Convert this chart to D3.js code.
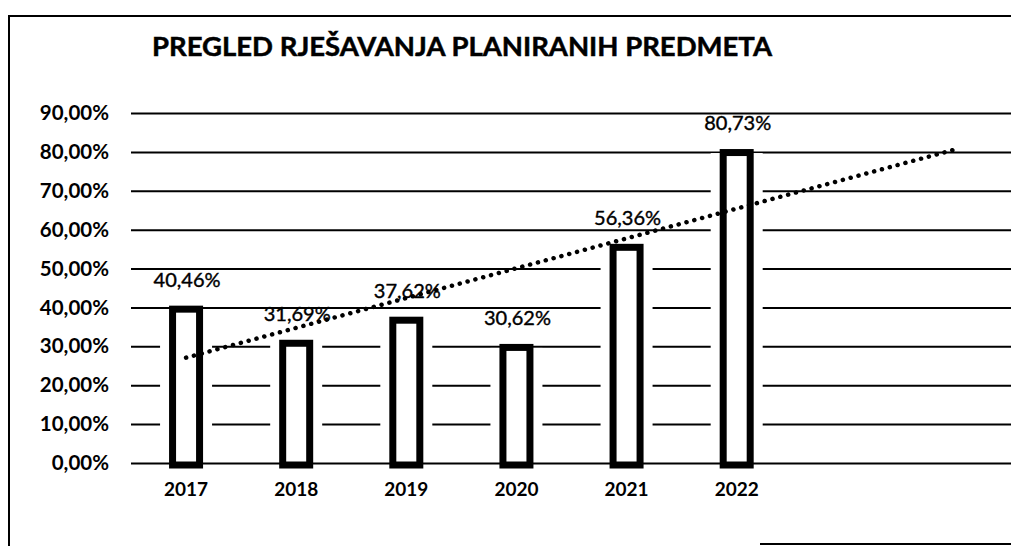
<!DOCTYPE html>
<html>
<head>
<meta charset="utf-8">
<script src="https://cdn.jsdelivr.net/npm/d3@7"></script>
<style>
  body { margin: 0; background: #fff; }
  svg { display: block; font-family: Lato, "Open Sans", sans-serif; }
</style>
</head>
<body>
<script>

// categories on the x axis (two empty slots carry the trend forecast)
var years = ['2017', '2018', '2019', '2020', '2021', '2022'];
var forecastSlots = ['f1', 'f2'];
// share of planned cases resolved, in percent
var resolved = [40.46, 31.69, 37.62, 30.62, 56.36, 80.73];
// y axis ticks
var yTicks = [0, 10, 20, 30, 40, 50, 60, 70, 80, 90];

var width = 1011, height = 546;
var margin = { top: 113, right: 1, bottom: 83, left: 131 };

var svg = d3.select('body').append('svg')
    .attr('width', width)
    .attr('height', height);

// frame of the scanned chart
svg.append('path')
    .attr('d', 'M9,546 V16 H1011')
    .attr('fill', 'none')
    .attr('stroke', '#000')
    .attr('stroke-width', 2);
svg.append('line')
    .attr('x1', 760).attr('x2', 1011)
    .attr('y1', 544).attr('y2', 544)
    .attr('stroke', '#000')
    .attr('stroke-width', 2);

svg.append('text')
    .attr('x', 462)
    .attr('y', 56)
    .attr('text-anchor', 'middle')
    .attr('font-size', '27.5px')
    .attr('font-weight', 'bold')
    .attr('stroke', '#000')
    .attr('stroke-width', 0.5)
    .text('PREGLED RJEŠAVANJA PLANIRANIH PREDMETA');

var xScale = d3.scaleBand()
    .domain(years.concat(forecastSlots))
    .range([margin.left, width - margin.right + 2]);

var yScale = d3.scaleLinear()
    .domain([0, 90])
    .range([height - margin.bottom, margin.top]);

var fmt = function (v) { return v.toFixed(2).replace('.', ',') + '%'; };

// gridlines + y labels via axis
var yAxis = d3.axisLeft(yScale)
    .tickValues(yTicks)
    .tickSize(-(width - margin.left))
    .tickPadding(22)
    .tickFormat(fmt);

var gy = svg.append('g')
    .attr('transform', 'translate(' + margin.left + ',0)')
    .call(yAxis);
gy.select('.domain').remove();
gy.selectAll('line').attr('stroke', '#000').attr('stroke-width', 2);
gy.selectAll('text')
    .attr('fill', '#000')
    .attr('font-size', '20.5px')
    .attr('font-weight', 'bold')
    .attr('font-family', 'Lato, "Open Sans", sans-serif');

var xAxis = d3.axisBottom(xScale)
    .tickSize(0)
    .tickPadding(20)
    .tickFormat(function (d) { return years.indexOf(d) < 0 ? '' : d; });

var gx = svg.append('g')
    .attr('transform', 'translate(0,' + (height - margin.bottom) + ')')
    .call(xAxis);
gx.select('.domain').remove();
gx.selectAll('text')
    .attr('fill', '#000')
    .attr('font-size', '19px')
    .attr('font-weight', 'bold')
    .attr('font-family', 'Lato, "Open Sans", sans-serif');

var barW = 34, sw = 7, halo = 9;
var cx = function (d, i) { return xScale(years[i]) + xScale.bandwidth() / 2; };

// white halo breaks the gridlines beside each bar
svg.append('g').selectAll('rect')
    .data(resolved).enter().append('rect')
    .attr('x', function (d, i) { return cx(d, i) - barW / 2 - halo; })
    .attr('y', function (d) { return yScale(d) + 4; })
    .attr('width', barW + halo * 2)
    .attr('height', function (d) { return yScale(0) - yScale(d) - 6; })
    .attr('fill', '#fff');

svg.append('g').selectAll('rect')
    .data(resolved).enter().append('rect')
    .attr('x', function (d, i) { return cx(d, i) - barW / 2 + sw / 2; })
    .attr('y', function (d) { return yScale(d) + sw / 2; })
    .attr('width', barW - sw)
    .attr('height', function (d) { return yScale(0) - yScale(d) - sw / 2 + 2; })
    .attr('fill', '#fff')
    .attr('stroke', '#000')
    .attr('stroke-width', sw);

// linear trendline (least squares), carried two periods forward
var mx = d3.mean(resolved, function (d, i) { return i; });
var my = d3.mean(resolved);
var slope = d3.sum(resolved, function (d, i) { return (i - mx) * (d - my); }) /
    d3.sum(resolved, function (d, i) { return (i - mx) * (i - mx); });
var trendAt = function (i) { return my + slope * (i - mx); };
var allSlots = xScale.domain();
var trendX = function (i) { return xScale(allSlots[i]) + xScale.bandwidth() / 2; };

svg.append('line')
    .attr('x1', trendX(0))
    .attr('y1', yScale(trendAt(0)))
    .attr('x2', trendX(allSlots.length - 1))
    .attr('y2', yScale(trendAt(allSlots.length - 1)))
    .attr('stroke', '#000')
    .attr('stroke-width', 4.5)
    .attr('stroke-linecap', 'round')
    .attr('stroke-dasharray', '0.1 8');

// value labels
svg.append('g').selectAll('text')
    .data(resolved).enter().append('text')
    .attr('x', function (d, i) { return cx(d, i) + 1; })
    .attr('y', function (d) { return yScale(d) - 19; })
    .attr('text-anchor', 'middle')
    .attr('font-size', '20px')
    .attr('stroke', '#000')
    .attr('stroke-width', 0.4)
    .text(fmt);

</script>
</body>
</html>
